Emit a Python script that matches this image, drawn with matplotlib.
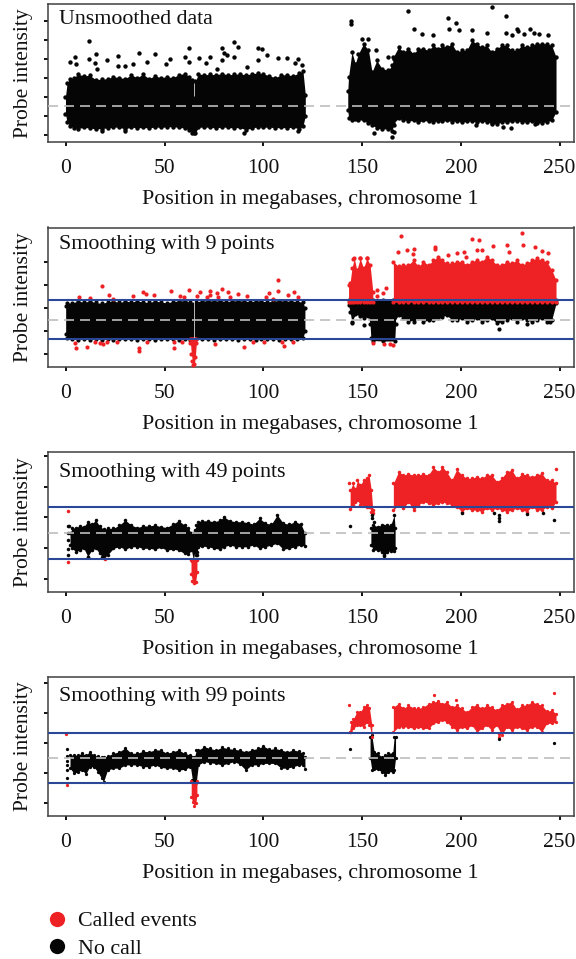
import numpy as np
import matplotlib
matplotlib.use('Agg')
import matplotlib.pyplot as plt
from matplotlib.lines import Line2D

plt.rcParams['font.family'] = ['Liberation Serif', 'DejaVu Serif']

RED = '#ee2224'
BLACK = '#050505'
BLUE = '#2b4797'
DASH = '#bdbdbd'
SPINE = '#404040'

# Dense clouds are given as upper and lower envelopes,
# single dots as (x, y) lists. y is in tick steps, the dashed line is 0.

# knots shared by the gained part of the long arm in all panels
gain_x = [165.8, 168.4, 170.9, 173.4, 176, 178.5, 181, 183.6, 186.1, 188.6, 190.6, 192.8, 195.4, 197.9, 200.4, 203, 205.5, 208, 210.6, 213.1, 215.6, 218.2, 220.7, 223.2, 225.8, 228.3, 230.8, 233.4, 235.9, 238.4, 241, 243.5, 246, 248.2]

# Panel 1, unsmoothed
p1_left_x = [-0.3, 0.5, 2, 4, 6, 9, 12, 15, 18, 21, 24, 27, 30, 33, 36, 39, 42, 45, 48, 51, 54, 57, 60, 62.5, 64, 65.5, 67, 70, 73, 76, 79, 82, 85, 88, 91, 94, 97, 100, 103, 106, 109, 112, 115, 118, 120, 121.2]
p1_left_up = [.5, 1.2, 1.45, 1.5, 1.68, 1.6, 1.62, 1.4, 1.42, 1.45, 1.55, 1.5, 1.45, 1.65, 1.5, 1.68, 1.45, 1.6, 1.5, 1.55, 1.5, 1.65, 1.72, 1.55, 1.36, 1.3, 1.7, 1.65, 1.68, 1.65, 1.72, 1.65, 1.68, 1.7, 1.65, 1.7, 1.75, 1.7, 1.6, 1.5, 1.65, 1.65, 1.6, 1.75, 1.85, .6]
p1_left_low = [-.4, -.85, -1.05, -1.15, -1.18, -1.12, -1.15, -1.2, -1.18, -1.15, -1.1, -1.12, -1.2, -1.1, -1.15, -1.12, -1.15, -1.1, -1.12, -1.1, -1.08, -1.12, -1.15, -1.25, -1.42, -1.42, -1.12, -1.1, -1.12, -1.15, -1.1, -1.12, -1.15, -1.12, -1.25, -1.15, -1.1, -1.12, -1.1, -1.15, -1.12, -1.15, -1.1, -1.2, -1.05, -.5]
p1_arm_x = [142.7, 143.1, 144.8, 146.5, 148.1, 150.7, 153.2, 155, 157.4, 160, 163.3, 165, 166]
p1_arm_up = [.8, 1.54, 2.85, 2.24, 2.76, 3.29, 2.94, 1.8, 2.41, 1.98, 1.89, 2.15, 2.5]
p1_arm_low = [-.2, -.6, -.73, -.7, -.72, -.75, -.9, -1.0, -1.15, -1.2, -1.2, -1.3, -1.0]
p1_gain_up = [2.59, 3.11, 2.85, 3.03, 2.76, 3.03, 3.03, 2.94, 3.2, 3.03, 3.2, 3.11, 3.29, 2.85, 2.94, 2.94, 3.46, 3.29, 3.11, 3.2, 2.85, 3.03, 3.2, 3.2, 2.94, 2.94, 3.2, 3.11, 3.2, 3.29, 3.29, 3.29, 3.2, 2.59]
p1_gain_low = [-.9, -.65, -.72, -.78, -.75, -.85, -.75, -.8, -.82, -.78, -.8, -.75, -.82, -.78, -.85, -.8, -.78, -.85, -.8, -.82, -.9, -.95, -.82, -.85, -.8, -.78, -.82, -.85, -.8, -.9, -.88, -.82, -.75, -.3]
p1_dots_x = [11.8, 4.6, 1.9, 5, 11.8, 15.2, 14.7, 20.9, 26.4, 26.2, 29.9, 33.8, 37.2, 40.9, 45.1, 50.5, 52.7, 60.3, 62.5, 62.5, 67.4, 73, 70.8, 78.9, 80, 81.4, 85, 87.3, 85, 78.9, 97, 99.5, 97, 101.7, 107.6, 111.8, 117.4, 119.4, 116, 91.6, 76.4, 15.5, 30.1, 89.9, 117.4, 18, 64.9,
             173.1, 144.4, 144.4, 176, 193.3, 197.4, 194.2, 199.1, 205.6, 213.1, 215.8, 223, 222.7, 225.7, 228.6, 229.1, 232, 235, 237.2, 239.5, 180.2, 186.1, 149.8, 152.9, 157.1, 163.3, 244.3, 156.1, 165, 165.9, 207.7, 215.6, 221.5, 225.4, 237.5]
p1_dots_y = [3.41, 2.59, 2.33, 2.2, 2.5, 2.76, 2.29, 2.45, 2.64, 2.12, 2.12, 2.24, 2.82, 2.33, 2.76, 2.24, 2.48, 2.59, 3.08, 2.33, 2.55, 2.59, 2.27, 3.06, 2.8, 2.68, 3.38, 3.11, 2.59, 2.45, 3.08, 2.99, 2.41, 2.71, 2.55, 2.55, 2.5, 2.15, 2.29, 2.06, 1.98, 1.98, -1.31, -1.4, -1.29, -1.29, -1.43,
             5.0, 4.51, 4.34, 4.04, 4.65, 4.37, 4.04, 3.99, 4.02, 3.87, 5.21, 4.76, 3.87, 3.76, 4.08, 3.95, 3.81, 4.04, 3.85, 3.81, 3.81, 3.76, 3.55, 3.55, 2.94, 2.59, 3.73, -1.4, -1.64, -1.35, -1.0, -.96, -1.08, -1.17, -.94]

# Panel 2, 9 points
p2_left_x = [-.2, .5, 3, 6, 9, 12, 15, 18, 21, 24, 27, 30, 33, 36, 39, 42, 45, 48, 51, 54, 57, 60, 63, 66, 69, 72, 75, 78, 81, 84, 87, 90, 93, 96, 99, 102, 105, 108, 111, 114, 117, 120, 121]
p2_left_up = [.6, .72, .72, .8, .75, .8, .74, .7, .76, .8, .74, .8, .76, .8, .76, .74, .8, .76, .72, .78, .8, .82, .74, .78, .8, .82, .8, .82, .78, .8, .82, .8, .78, .8, .8, .76, .8, .82, .8, .8, .78, .76, .5]
p2_left_low = [-.6, -.78, -.85, -.86, -.84, -.86, -.85, -.86, -.84, -.86, -.85, -.84, -.85, -.86, -.84, -.85, -.86, -.84, -.85, -.85, -.86, -.84, -.86, -.85, -.84, -.85, -.86, -.85, -.84, -.85, -.86, -.84, -.85, -.86, -.85, -.85, -.84, -.86, -.85, -.84, -.82, -.78, -.5]
p2_right_x = [143.1, 143.9, 144.8, 146.5, 148.7, 150.7, 153.2, 154, 154.4, 155.4, 160.8, 166.5, 166.9]
p2_right_up = [.85] * 13
p2_right_low = [.63, .32, -.1, .23, .17, .06, .15, -.2, -.8, -.9, -.92, -.92, -.2]
p2_arm_x = [143.1, 143.9, 144.8, 146, 147.3, 149, 150.7, 152.4, 154, 155.4]
p2_arm_up = [1.49, 1.6, 2.21, 2.64, 2.14, 2.64, 2.21, 2.64, 2.36, 1.21]
p2_arm_low = [.75] * 10
p2_gain_up = [2.5, 2.29, 2.36, 2.36, 2.57, 2.29, 2.5, 2.36, 2.57, 2.72, 2.57, 2.43, 2.43, 2.5, 2.5, 2.36, 2.5, 2.57, 2.5, 2.72, 2.57, 2.36, 2.36, 2.5, 2.43, 2.57, 2.36, 2.43, 2.57, 2.64, 2.57, 2.5, 2.14, 1.71]
p2_gain_low = [.75] * 34
p2_under_up = [.85] * 34
p2_under_low = [-.16, .2, .06, -.09, -.01, .06, -.09, -.01, -.01, .06, .13, .2, -.01, -.01, .06, -.09, -.01, .06, -.09, -.01, .06, -.16, -.09, -.01, .06, -.09, .06, -.01, -.09, -.01, .06, -.09, -.01, .7]
p2_loss_x = [63, 63.5, 64, 64.5, 65, 65.5, 66]
p2_loss_up = [-.85] * 7
p2_loss_low = [-1.0, -1.5, -1.8, -1.95, -1.9, -1.6, -1.0]
p2_red_x = [18.1, 22, 6.8, 11.9, 34.1, 38.9, 40.6, 44.8, 53, 62.5, 57.8, 59.5, 66.2, 67.9, 73, 73, 76.4, 78.9, 81.9, 83.1, 87.3, 91.6, 101.2, 103, 107.6, 107.6, 112.6, 115.7, 117.7, 71.3, 77.2, 24, 105,
            4.6, 4.9, 10.5, 14.7, 17.2, 18.9, 20.6, 25.7, 37.2, 37.2, 40.9, 54.9, 54.9, 58.6, 75.2, 90.2, 94.6, 100.5, 109.3, 110.5, 114.9,
            169.7, 168, 172.6, 176.5, 175.5, 186.9, 186.9, 201.8, 198.2, 205.8, 209.2, 208.3, 210.5, 216.4, 223.2, 224.5, 230.8, 231.6, 237.5, 240.9, 244.3, 149, 145.6, 152.4, 193.7, 202.6,
            157.4, 157.7, 160.4, 161.9, 155.7, 161.1, 164.1, 165.4]
p2_red_y = [1.44, 1.06, .96, .92, 1.02, 1.21, 1.09, 1.06, 1.25, 1.28, 1.03, .99, 1.03, 1.18, 1.25, 1.06, 1.14, 1.32, 1.21, .99, 1.11, 1.02, .99, 1.14, 1.71, 1.25, 1.06, 1.21, .96, .96, .99, .89, .89,
            -1.02, -1.24, -1.16, -.98, -1.02, -1.06, -.98, -.95, -1.21, -1.35, -.98, -.98, -1.21, -.95, -1.06, -1.16, -.95, -.98, -.98, -1.12, -.95,
            3.61, 2.9, 3.0, 3.05, 2.82, 3.15, 3.03, 2.9, 2.86, 3.49, 3.43, 3.0, 3.0, 3.18, 3.22, 2.93, 3.72, 3.22, 3.15, 2.96, 2.86, 2.67, 2.6, 2.64, 2.79, 2.72,
            1.28, 1.03, 1.13, 1.35, -1.0, -1.07, -1.03, -1.1]
p2_black_x = [144.8, 151, 219.3, 233.3, 245.1, 176]
p2_black_y = [-.16, -.23, -.4, -.19, -.11, -.11]

# Panel 3, 49 points
p3_left_x = [2, 3, 5, 7, 9, 11, 13, 15, 17, 19, 21, 24, 27, 30, 33, 36, 39, 42, 45, 48, 51, 54, 57, 60, 62, 63.5, 64.5, 65.2, 66, 67, 69, 72, 75, 78, 80, 83, 86, 89, 92, 95, 98, 101, 104, 107, 110, 113, 116, 119, 121]
p3_left_up = [-.02, .14, .17, .22, .2, .36, .28, .41, .22, .11, .14, .14, .25, .41, .25, .17, .22, .22, .25, .2, .17, .28, .39, .25, .14, -.02, -.02, .09, .25, .36, .39, .39, .36, .41, .52, .39, .36, .36, .33, .28, .47, .31, .28, .58, .31, .28, .36, .28, -.02]
p3_left_low = [-.4, -.51, -.62, -.57, -.51, -.78, -.57, -.51, -.68, -.84, -.73, -.51, -.46, -.54, -.46, -.46, -.51, -.51, -.54, -.48, -.57, -.54, -.57, -.68, -.7, -.57, -.89, -.62, -.73, -.46, -.44, -.46, -.51, -.54, -.46, -.4, -.46, -.46, -.46, -.4, -.51, -.46, -.4, -.35, -.54, -.51, -.46, -.4, -.44]
p3_block_x = [154.4, 155.7, 157.8, 159.9, 161.1, 162.8, 164.5, 166.2, 166.7]
p3_block_up = [.14, .25, .2, .25, .22, .25, .25, .58, .14]
p3_block_low = [-.4, -.57, -.57, -.62, -.76, -.62, -.59, -.6, -.51]
p3_arm_x = [143.9, 145.3, 146.5, 147.6, 149, 150.7, 152.4, 153.5, 154.6, 155.4]
p3_arm_up = [1.39, 1.61, 1.42, 1.72, 1.56, 1.72, 1.78, 1.88, 1.39, .74]
p3_arm_low = [.76, .9, 1.01, 1.07, .9, .9, .85, .85, .69, .63]
p3_gain_up = [1.61, 1.99, 1.89, 1.92, 1.89, 1.89, 1.92, 1.89, 2.14, 1.99, 2.16, 1.99, 1.72, 2.07, 1.89, 1.78, 1.78, 1.83, 1.78, 1.89, 1.89, 1.67, 1.78, 1.99, 2.05, 1.78, 1.92, 1.89, 1.83, 1.89, 1.94, 1.72, 1.72, 1.61]
p3_gain_low = [.74, .91, .8, 1.01, .74, .91, 1.01, .96, .91, .96, 1.01, .96, .91, .85, .69, .8, .74, .74, .69, .8, .74, .8, .74, .69, .74, .8, .74, .69, .85, .74, .74, .85, .8, 1.01]
p3_loss_x = [63.3, 64, 64.8, 65.6, 66.3]
p3_loss_up = [-.9, -.9, -.9, -.9, -.89]
p3_loss_low = [-1.35, -1.58, -1.66, -1.62, -1.3]
p3_red_x = [143.1, 248, .8, 1, 19.8, 63.7]
p3_red_y = [1.64, 2.07, .7, -.95, -.86, -.93]
p3_black_x = [143.6, 247.1, 200.4, 219.5, 219.5, 219.5, 216.8, 233.3, 241.7, 154.9, 154.9, 156.1, 161.1, 1, 1, 1, .9, 1, 1.7, 66.2, 66.2, 11.1, 18.1]
p3_black_y = [.22, .41, .63, .58, .47, .39, .65, .61, .63, .58, .47, .36, -.73, .22, -.02, -.24, -.52, -.73, .22, -.62, -.73, -.78, -.81]

# Panel 4, 99 points
p4_left_x = [2, 4, 6, 8, 10, 12, 14, 16, 18, 19, 21, 24, 27, 30, 33, 36, 39, 42, 45, 48, 51, 54, 57, 60, 63, 64, 65, 66, 67, 70, 73, 76, 79, 82, 85, 88, 91, 94, 97, 100, 103, 106, 109, 112, 115, 118, 120, 121]
p4_left_up = [.1, .1, .1, .16, .1, .21, .1, .07, .04, .02, .07, .16, .21, .34, .16, .16, .23, .21, .27, .27, .16, .21, .27, .16, .1, .02, .02, .27, .27, .38, .32, .27, .36, .32, .29, .27, .21, .27, .32, .4, .29, .32, .27, .21, .27, .23, .16, .02]
p4_left_low = [-.34, -.51, -.46, -.4, -.53, -.29, -.29, -.46, -.68, -.79, -.4, -.34, -.34, -.23, -.23, -.23, -.29, -.29, -.23, -.31, -.34, -.34, -.4, -.38, -.29, -.73, -.84, -.79, -.23, -.12, -.16, -.18, -.23, -.18, -.12, -.2, -.4, -.23, -.23, -.18, -.18, -.18, -.34, -.34, -.29, -.23, -.23, -.38]
p4_block_x = [154, 154.9, 156.1, 157.8, 159.9, 161.6, 163.3, 165.5, 166.2, 166.9]
p4_block_up = [.71, .76, .21, .16, .04, .1, .16, .18, .71, .71]
p4_block_low = [-.01, -.4, -.38, -.38, -.46, -.57, -.46, -.46, -.4, -.01]
p4_arm_x = [143.6, 144.3, 145.6, 147.3, 149, 150.7, 152.4, 153.7, 154.9]
p4_arm_up = [.88, 1.21, 1.32, 1.54, 1.54, 1.71, 1.79, 1.66, 1.1]
p4_arm_low = [.88, .88, .99, 1.1, 1.1, 1.04, 1.21, 1.1, .71]
p4_gain_up = [1.71, 1.82, 1.66, 1.77, 1.68, 1.66, 1.71, 1.82, 1.88, 1.9, 1.82, 1.88, 1.71, 1.77, 1.66, 1.54, 1.71, 1.79, 1.66, 1.77, 1.71, 1.6, 1.77, 1.82, 1.88, 1.63, 1.77, 1.77, 1.88, 1.82, 1.77, 1.57, 1.6, 1.49]
p4_gain_low = [.88, 1.04, 1.04, 1.04, .99, 1.04, .99, .99, 1.16, 1.21, 1.27, 1.21, 1.04, .93, 1.04, .99, 1.1, .88, .99, 1.1, .93, 1.1, .77, 1.04, .93, 1.04, .99, .93, 1.04, 1.04, .88, 1.16, 1.16, 1.21]
p4_loss_x = [63.4, 64.1, 64.9, 65.7, 66.3]
p4_loss_up = [-.76, -.85, -.85, -.85, -.76]
p4_loss_low = [-1.3, -1.48, -1.6, -1.5, -1.25]
p4_red_x = [143.1, 247.3, 186.4, 197.6, .2, .3, 219.1, 219.1]
p4_red_y = [1.77, 2.19, 2.1, 1.93, .79, -.9, .8, .72]
p4_black_x = [143.6, 247.3, 219.1, .5, .5, .5, .3, .3, .3]
p4_black_y = [.29, .5, .63, .3, .07, -.09, -.23, -.4, -.68]

xticks = [0, 50, 100, 150, 200, 250]
threshold = 0.85
centromere = 64.7
panel_titles = ['Unsmoothed data', 'Smoothing with 9\u2009points', 'Smoothing with 49\u2009points', 'Smoothing with 99\u2009points']
ylims = [(-1.89, 5.41), (-2.04, 3.97), (-1.94, 2.64), (-1.94, 2.73)]
yticks = [[-1.5, -.5, .5, 1.5, 2.5, 3.5, 4.5], [-1.5, -.5, .5, 1.5, 2.5], [-1.5, -.5, .5, 1.5, 2.5], [-1.5, -.5, .5, 1.5, 2.5]]
dot_sizes = [10, 9, 6.5, 5.5]
title_y = [.884, .875, .854, .86]


def band(ax, x, up, low, color, s, z=2):
    # dots along the edges keep the outline of a cloud grainy
    ax.fill_between(x, up, low, color=color, lw=0, zorder=z)
    ax.scatter(x + x, up + low, s=s, c=color, lw=0, zorder=z)


def dots(ax, x, y, color, s, z=3):
    ax.scatter(x, y, s=s, c=color, lw=0, zorder=z)


W, H = 576, 959
fig = plt.figure(figsize=(W / 100, H / 100), dpi=100)
tops = [3.5, 227.5, 452, 676.5]
bottoms = [142, 367, 592, 816]
axes = []
for top, bot in zip(tops, bottoms):
    axes.append(fig.add_axes([47.5 / W, 1 - bot / H, (574 - 47.5) / W, (bot - top) / H]))

s = dot_sizes[0]
band(axes[0], p1_left_x, p1_left_up, p1_left_low, BLACK, s)
band(axes[0], p1_arm_x, p1_arm_up, p1_arm_low, BLACK, s)
band(axes[0], gain_x, p1_gain_up, p1_gain_low, BLACK, s)
dots(axes[0], p1_dots_x, p1_dots_y, BLACK, s)
axes[0].vlines(centromere, .55, 1.2, color='white', lw=.5, zorder=4)

s = dot_sizes[1]
band(axes[1], p2_left_x, p2_left_up, p2_left_low, BLACK, s)
band(axes[1], p2_right_x, p2_right_up, p2_right_low, BLACK, s)
band(axes[1], gain_x, p2_under_up, p2_under_low, BLACK, s)
band(axes[1], p2_arm_x, p2_arm_up, p2_arm_low, RED, s, z=3)
band(axes[1], gain_x, p2_gain_up, p2_gain_low, RED, s, z=3)
band(axes[1], p2_loss_x, p2_loss_up, p2_loss_low, RED, s, z=3)
dots(axes[1], p2_red_x, p2_red_y, RED, s)
dots(axes[1], p2_black_x, p2_black_y, BLACK, s)
axes[1].vlines(centromere, -.8, .85, color='white', lw=.5, zorder=4)

s = dot_sizes[2]
band(axes[2], p3_left_x, p3_left_up, p3_left_low, BLACK, s)
band(axes[2], p3_block_x, p3_block_up, p3_block_low, BLACK, s)
band(axes[2], p3_arm_x, p3_arm_up, p3_arm_low, RED, s, z=3)
band(axes[2], gain_x, p3_gain_up, p3_gain_low, RED, s, z=3)
band(axes[2], p3_loss_x, p3_loss_up, p3_loss_low, RED, s, z=3)
dots(axes[2], p3_red_x, p3_red_y, RED, s)
dots(axes[2], p3_black_x, p3_black_y, BLACK, s)

s = dot_sizes[3]
band(axes[3], p4_left_x, p4_left_up, p4_left_low, BLACK, s)
band(axes[3], p4_block_x, p4_block_up, p4_block_low, BLACK, s)
band(axes[3], p4_arm_x, p4_arm_up, p4_arm_low, RED, s, z=3)
band(axes[3], gain_x, p4_gain_up, p4_gain_low, RED, s, z=3)
band(axes[3], p4_loss_x, p4_loss_up, p4_loss_low, RED, s, z=3)
dots(axes[3], p4_red_x, p4_red_y, RED, s)
dots(axes[3], p4_black_x, p4_black_y, BLACK, s)

for i, ax in enumerate(axes):
    ax.set_xlim(-9.4, 257.3)
    ax.set_ylim(*ylims[i])
    ax.axhline(0, color=DASH, lw=1.2, dashes=(6, 3.6), zorder=5)
    if i > 0:
        ax.axhline(threshold, color=BLUE, lw=1.5, zorder=6)
        ax.axhline(-threshold, color=BLUE, lw=1.5, zorder=6)
    ax.set_xticks(xticks)
    ax.set_yticks(yticks[i])
    ax.set_yticklabels([])
    ax.tick_params(axis='both', length=3, width=1.3, color='black', labelsize=15.5, labelcolor='#111111', pad=9)
    for sp in ax.spines.values():
        sp.set_color(SPINE)
        sp.set_linewidth(1.1)
    ax.set_xlabel('Position in megabases, chromosome 1', fontsize=15.8, color='#111111', labelpad=9)
    ax.set_ylabel('Probe intensity', fontsize=15.5, color='#111111')
    ax.yaxis.set_label_coords(-0.027, 0.5)
    ax.text(0.022, title_y[i], panel_titles[i], transform=ax.transAxes, fontsize=15.8, color='#111111', va='center', ha='left', zorder=7)

handles = [Line2D([], [], ls='none', marker='o', ms=11, color=RED, mew=0),
           Line2D([], [], ls='none', marker='o', ms=11, color=BLACK, mew=0)]
fig.legend(handles, ['Called events', 'No call'], loc='upper left', bbox_to_anchor=(38 / W, 1 - 911 / H),
           frameon=False, fontsize=15.8, labelspacing=0.32, handletextpad=0.12, handlelength=1.7, borderpad=0, borderaxespad=0,
           labelcolor='#111111')

fig.savefig('out.png', dpi=100)
